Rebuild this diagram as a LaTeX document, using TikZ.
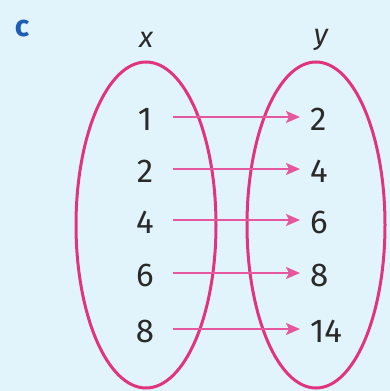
\documentclass[tikz,border=0pt]{standalone}
\usepackage{fontspec}
\setmainfont{Fira Sans}
\usetikzlibrary{arrows.meta}
\definecolor{bg}{HTML}{E1F4FB}
\definecolor{ellc}{HTML}{E03480}
\definecolor{arrc}{HTML}{E6589E}
\definecolor{txt}{HTML}{2A2A2A}
\definecolor{lblue}{HTML}{1F5DB5}
\begin{document}
\begin{tikzpicture}[x=1pt,y=-1pt,
  setell/.style={draw=ellc,line width=3pt},
  num/.style={text=txt,font=\fontsize{33}{33}\selectfont,inner sep=0pt},
  hdr/.style={text=txt,font=\fontsize{29}{29}\selectfont\itshape,inner sep=0pt},
  maparrow/.style={draw=arrc,line width=2pt,-{Stealth[length=14pt,width=12pt,inset=3pt]}}]
\fill[bg] (0,0) rectangle (390,391);
\useasboundingbox (0,0) rectangle (390,391);
\node[text=lblue,font=\fontsize{30}{30}\selectfont\bfseries,inner sep=0pt] (lab) at (22,29) {c};
\node[hdr] (hx) at (146,40) {x};
\node[hdr] (hy) at (321,40) {y};
\draw[setell] (146,225) ellipse [x radius=70pt, y radius=163pt];
\draw[setell] (316,225) ellipse [x radius=69pt, y radius=163pt];
\foreach \i/\a/\b/\y in {1/1/2/117,2/2/4/169,3/4/6/220,4/6/8/273,5/8/14/329}{
  \node[num,anchor=mid] (l\i) at (145,\y+11) {\a};
  \node[num,anchor=mid west] (r\i) at (310,\y+11) {\b};
  \draw[maparrow] (173,\y) -- ([xshift=-10pt]r\i.west |- 0,\y);
}
\end{tikzpicture}
\end{document}
